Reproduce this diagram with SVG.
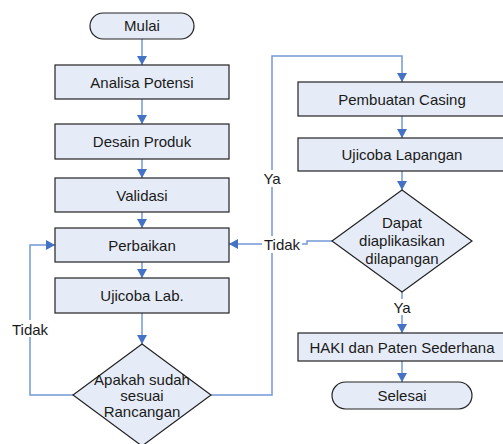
<svg xmlns="http://www.w3.org/2000/svg" width="503" height="444" viewBox="0 0 503 444">
<defs>
<marker id="arr" markerUnits="userSpaceOnUse" markerWidth="10" markerHeight="10" refX="9" refY="5" orient="auto">
<path d="M0,0 L9,5 L0,10 z" fill="#4472c4"/>
</marker>
<style>
.box{fill:#e6ecf7;stroke:#222;stroke-width:1.2}
.t{font-family:"Liberation Sans",Arial,sans-serif;font-size:15px;fill:#1a1a1a;text-anchor:middle}
.c{fill:none;stroke:#7398d6;stroke-width:1.5}
.a{marker-end:url(#arr)}
.bg{fill:#fff}
</style>
</defs>
<rect width="503" height="444" fill="#fff"/>
<g id="connectors">
<path class="c a" d="M142,39 V65"/>
<path class="c a" d="M142,99 V124"/>
<path class="c a" d="M142,159 V178"/>
<path class="c a" d="M142,212 V228"/>
<path class="c a" d="M142,262 V278"/>
<path class="c a" d="M142,313 V344"/>
<path class="c a" d="M73,395 H30 V245 H55"/>
<path class="c a" d="M211,395 H272 V56 H402 V82"/>
<path class="c a" d="M402,116 V138"/>
<path class="c a" d="M402,171 V190"/>
<path class="c a" d="M332,241 H307 V244 H229"/>
<path class="c a" d="M402,292 V333"/>
<path class="c a" d="M402,361 V382"/>
<rect class="bg" x="11" y="320" width="38" height="17"/>
<text class="t" x="30" y="334.5">Tidak</text>
<rect class="bg" x="262" y="170" width="20" height="17"/>
<text class="t" x="272" y="183.5">Ya</text>
<rect class="bg" x="262" y="236" width="40" height="17"/>
<text class="t" x="282" y="250">Tidak</text>
<rect class="bg" x="392" y="299" width="20" height="16"/>
<text class="t" x="402" y="312.5">Ya</text>
</g>
<g id="mulai">
<rect class="box" x="90" y="13" width="104" height="26" rx="13"/>
<text class="t" x="142" y="31">Mulai</text>
</g>
<g id="analisa">
<rect class="box" x="55" y="65" width="174" height="34"/>
<text class="t" x="142" y="87.5">Analisa Potensi</text>
</g>
<g id="desain">
<rect class="box" x="55" y="124" width="174" height="35"/>
<text class="t" x="142" y="147">Desain Produk</text>
</g>
<g id="validasi">
<rect class="box" x="55" y="178" width="174" height="34"/>
<text class="t" x="142" y="200.5">Validasi</text>
</g>
<g id="perbaikan">
<rect class="box" x="55" y="228" width="174" height="34"/>
<text class="t" x="142" y="250.5">Perbaikan</text>
</g>
<g id="ujicoba-lab">
<rect class="box" x="55" y="278" width="174" height="35"/>
<text class="t" x="142" y="301">Ujicoba Lab.</text>
</g>
<g id="apakah">
<path class="box" d="M142,344 L211,395 L142,446 L73,395 Z"/>
<text class="t" x="142" y="385">Apakah sudah</text>
<text class="t" x="142" y="401">sesuai</text>
<text class="t" x="142" y="417">Rancangan</text>
</g>
<g id="casing">
<rect class="box" x="298" y="82" width="208" height="34"/>
<text class="t" x="402" y="104.5">Pembuatan Casing</text>
</g>
<g id="ujicoba-lapangan">
<rect class="box" x="298" y="138" width="208" height="33"/>
<text class="t" x="402" y="160">Ujicoba Lapangan</text>
</g>
<g id="dapat">
<path class="box" d="M402,190 L472,241 L402,292 L332,241 Z"/>
<text class="t" x="402" y="228">Dapat</text>
<text class="t" x="402" y="246">diaplikasikan</text>
<text class="t" x="402" y="264">dilapangan</text>
</g>
<g id="haki">
<rect class="box" x="298" y="333" width="208" height="28"/>
<text class="t" x="402" y="352.5">HAKI dan Paten Sederhana</text>
</g>
<g id="selesai">
<rect class="box" x="332" y="382" width="140" height="27" rx="13.5"/>
<text class="t" x="402" y="400.5">Selesai</text>
</g>
</svg>
